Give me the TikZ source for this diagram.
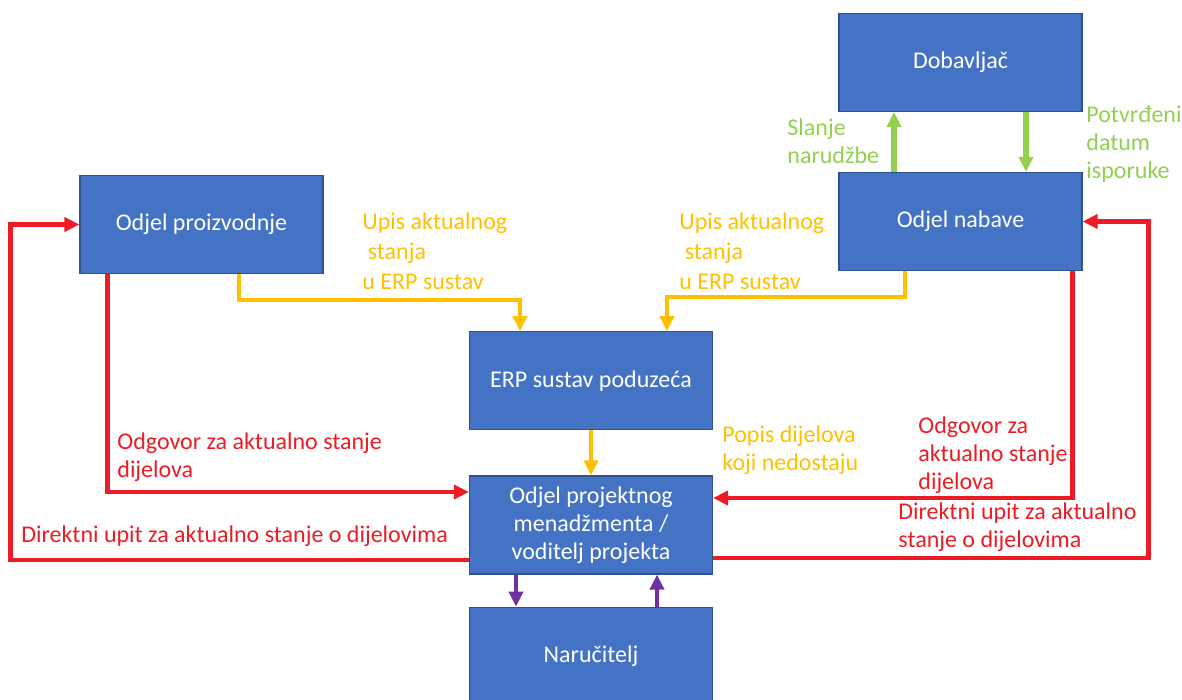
\documentclass[tikz,border=0pt]{standalone}
\usepackage{fontspec}
\setmainfont{Carlito}
\usetikzlibrary{positioning,arrows.meta}
\definecolor{boxcolor}{RGB}{68,114,196}
\definecolor{edgecolor}{RGB}{47,82,143}
\definecolor{redcolor}{RGB}{237,28,36}
\definecolor{yelcolor}{RGB}{255,192,0}
\definecolor{grncolor}{RGB}{146,208,80}
\definecolor{purcolor}{RGB}{112,48,160}

\begin{document}
\begin{tikzpicture}[%
    x=0.5pt, y=-0.5pt,          % one unit is one pixel of the sketch
    >={Triangle[length=7.5pt,width=7pt]}, % filled heads
    node distance=30pt,         % gap between stacked boxes
    ]
\tikzset{
  unit/.style={draw=edgecolor, line width=0.6pt, fill=boxcolor, text=white, align=center,
    minimum width=121.5pt, minimum height=49pt, font=\fontsize{12}{14}\selectfont},
  note/.style={inner sep=0pt, anchor=north west, align=left, font=\fontsize{12}{14}\selectfont},
  flow/.style={line width=2.2pt, ->},
}
\useasboundingbox (0,0) rectangle (1182,700);

\node [unit] (p1) at (201.5,224.5) {Odjel proizvodnje};
\node [unit] (p2) at (960.5,221.5) {Odjel nabave};
\node [unit,above=of p2] (p3) {Dobavljač};
\node [unit] (p4) at (591,525) {Odjel projektnog\\menadžmenta /\\voditelj projekta};
\node [unit,above=22.5pt of p4] (p5) {ERP sustav poduzeća};
\node [unit,below=16pt of p4] (p6) {Naručitelj};

\node [note,text=yelcolor,font=\fontsize{12}{15}\selectfont] (l1) at (362,212) {Upis aktualnog\\\ stanja\\u ERP sustav};
\node [note,text=yelcolor,font=\fontsize{12}{15}\selectfont] (l2) at (679,212) {Upis aktualnog\\\ stanja\\u ERP sustav};
\node [note,text=grncolor] (l3) at (787,118) {Slanje\\narudžbe};
\node [note,text=grncolor] (l4) at (1086,105) {Potvrđeni\\datum\\isporuke};
\node [note,text=yelcolor] (l5) at (722,425) {Popis dijelova\\koji nedostaju};
\node [note,text=redcolor] (l6) at (117,432) {Odgovor za aktualno stanje\\dijelova};
\node [note,text=redcolor] (l7) at (21,525) {Direktni upit za aktualno stanje o dijelovima};
\node [note,text=redcolor] (l8) at (918,416) {Odgovor za\\aktualno stanje\\dijelova};
\node [note,text=redcolor] (l9) at (898,502) {Direktni upit za aktualno\\stanje o dijelovima};

%connect
\draw [flow,yelcolor] ([xshift=18.75pt]p1.south) -- ++(0,26) -| ([xshift=-35.5pt]p5.north);
\draw [flow,yelcolor] ([xshift=-27.75pt]p2.south) -- ++(0,26) -| ([xshift=38pt]p5.north);
\draw [flow,yelcolor] (p5.south) -- (p4.north);

\draw [flow,grncolor,line width=2.6pt] ([xshift=-33.25pt]p2.north) -- ([xshift=-33.25pt]p3.south);
\draw [flow,grncolor,line width=2.6pt] ([xshift=32.75pt]p3.south) -- ([xshift=32.75pt]p2.north);

\draw [flow,purcolor] ([xshift=-37.5pt]p4.south) -- ([xshift=-37.5pt]p6.north);
\draw [flow,purcolor] ([xshift=33pt]p6.north) -- ([xshift=33pt]p4.south);

\draw [flow,redcolor] ([xshift=14pt]p1.south west) |- ([yshift=16.5pt]p4.west);
\draw [flow,redcolor] ([yshift=-17.5pt]p4.west) -| ([xshift=-34.5pt]p1.west) -- (p1.west);
\draw [flow,redcolor] ([xshift=-5pt]p2.south east) |- ([yshift=13.5pt]p4.east);
\draw [flow,redcolor] ([yshift=-16.5pt]p4.east) -| ([xshift=33pt]p2.east) -- (p2.east);

\end{tikzpicture}
\end{document}
